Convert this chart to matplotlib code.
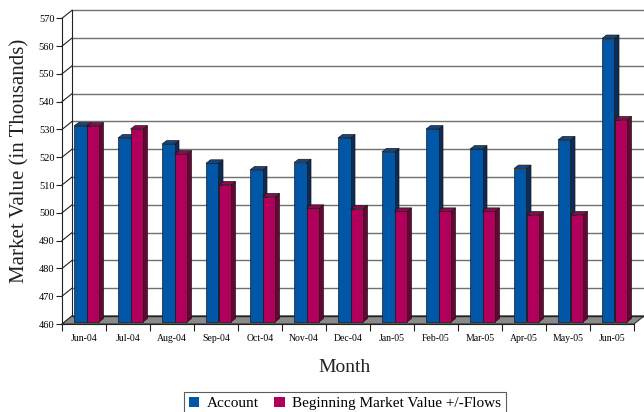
import matplotlib
matplotlib.use("Agg")
import matplotlib.pyplot as plt
from matplotlib.patches import Polygon, Rectangle

months = ["Jun-04", "Jul-04", "Aug-04", "Sep-04", "Oct-04", "Nov-04", "Dec-04",
          "Jan-05", "Feb-05", "Mar-05", "Apr-05", "May-05", "Jun-05"]
account = [530.5, 526.2, 524.0, 517.1, 514.7, 517.3, 526.2, 521.2, 529.4, 522.2, 515.2, 525.5, 562.0]
beginning = [530.5, 529.4, 520.4, 509.3, 505.0, 500.9, 500.7, 499.8, 499.8, 499.8, 498.5, 498.5, 532.7]
series_names = ["Account", "Beginning Market Value +/-Flows"]
yticks = list(range(460, 571, 10))

plt.rcParams["font.family"] = ["Liberation Serif", "DejaVu Serif"]

W, H = 644, 412
fig = plt.figure(figsize=(W / 100, H / 100), dpi=100)
L, R, B, T = 62, 634, 324, 18.3
ax = fig.add_axes([L / W, 1 - B / H, (R - L) / W, (B - T) / H])
n = len(months)
ymin, ymax = yticks[0], yticks[-1]
ax.set_xlim(0, n)
ax.set_ylim(ymin, ymax)
sx = n / (R - L)
sy = (ymax - ymin) / (B - T)

# wall depth offset (pixels -> data)
wdx, wdy = 10 * sx, 8 * sy
# bar plane offset
pdx, pdy = 2.5 * sx, 2 * sy
# bar depth
bdx, bdy = 4.5 * sx, 3.5 * sy

grid_c = "#707070"
# back wall gridlines + left wall diagonals
for v in yticks:
    ax.plot([wdx, n + wdx], [v + wdy, v + wdy], color=grid_c, lw=1.0, zorder=1, clip_on=False)
    ax.plot([0, wdx], [v, v + wdy], color="#222222", lw=0.8, zorder=1, clip_on=False)
ax.plot([wdx, wdx], [ymin + wdy, ymax + wdy], color="#222222", lw=0.8, zorder=1, clip_on=False)

# floor
floor = Polygon([(0, ymin), (n, ymin), (n + wdx, ymin + wdy), (wdx, ymin + wdy)],
                closed=True, facecolor="#8a8a8a", edgecolor="#333333", lw=0.8,
                zorder=2, clip_on=False)
ax.add_patch(floor)
ax.plot([wdx, n + wdx], [ymin + wdy, ymin + wdy], color="#222222", lw=1.0, zorder=2, clip_on=False)

bw = 0.284
colors = [("#0057A8", "#0C2B58", "#16457F"), ("#B0005C", "#650634", "#8A0C4C")]
edge = "#1a1a1a"
for si, vals in enumerate([account, beginning]):
    front, side, top = colors[si]
    xs = [i + 0.5 - bw + si * bw + pdx for i in range(n)]
    z = 3 + 2 * si
    for x0, v in zip(xs, vals):
        b0 = ymin + pdy
        t0 = v + pdy
        x1 = x0 + bw
        ax.add_patch(Polygon([(x1, b0), (x1 + bdx, b0 + bdy), (x1 + bdx, t0 + bdy), (x1, t0)],
                             closed=True, facecolor=side, edgecolor=edge, lw=0.5, zorder=z))
        ax.add_patch(Polygon([(x0, t0), (x1, t0), (x1 + bdx, t0 + bdy), (x0 + bdx, t0 + bdy)],
                             closed=True, facecolor=top, edgecolor=edge, lw=0.5, zorder=z))
    ax.bar(xs, [v - ymin for v in vals], width=bw, bottom=ymin + pdy, align="edge",
           color=front, edgecolor=edge, linewidth=0.5, zorder=z + 1)

for s in ["top", "right"]:
    ax.spines[s].set_visible(False)
ax.spines["left"].set_color("#222222")
ax.spines["bottom"].set_color("#222222")
ax.spines["left"].set_zorder(10)
ax.spines["bottom"].set_zorder(10)

ax.set_yticks(yticks)
ax.set_yticklabels([str(v) for v in yticks], fontsize=7.5)
ax.tick_params(axis="y", direction="out", length=4, width=0.8, pad=1.5, color="#222222")
ax.set_xticks(range(n + 1))
ax.set_xticklabels([])
ax.tick_params(axis="x", which="major", direction="out", length=5, width=0.8, color="#222222")
ax.set_xticks([i + 0.5 for i in range(n)], minor=True)
ax.set_xticklabels(months, minor=True, fontsize=7)
ax.tick_params(axis="x", which="minor", length=0, pad=7)
ax.patch.set_visible(False)

fig.text(20 / W, 1 - 161 / H, "Market Value (in Thousands)", rotation=90,
         ha="center", va="center", fontsize=15, color="#222222")
fig.text(345 / W, 1 - 368 / H, "Month", ha="center", va="center", fontsize=14, color="#222222")

handles = [Rectangle((0, 0), 1, 1, facecolor=colors[0][0], edgecolor="none"),
           Rectangle((0, 0), 1, 1, facecolor=colors[1][0], edgecolor="none")]
leg = fig.legend(handles, series_names, loc="upper center", ncol=2,
                 bbox_to_anchor=(345 / W, 1 - 392 / H), borderaxespad=0,
                 fontsize=11, frameon=True, fancybox=False, handlelength=0.7,
                 handleheight=0.7, handletextpad=0.5, columnspacing=1.0,
                 borderpad=0.3)
leg.get_frame().set_edgecolor("#333333")
leg.get_frame().set_linewidth(0.8)

fig.savefig("out.png", dpi=100)
